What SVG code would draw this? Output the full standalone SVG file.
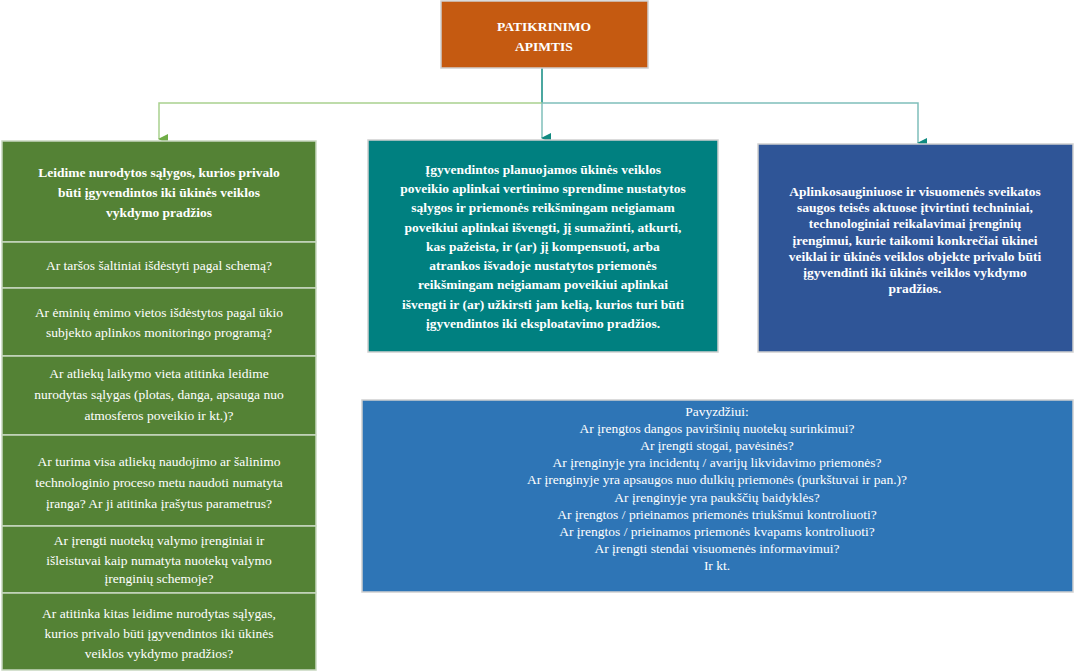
<svg xmlns="http://www.w3.org/2000/svg" width="1078" height="672" viewBox="0 0 1078 672">
<style>
text{font-family:"Liberation Serif","Times New Roman",serif;fill:#fff;text-anchor:middle;font-size:13.5px}
.b{font-weight:bold}
.box{stroke:#d0d0d0;stroke-width:1.5}
.cell{fill:#548235;stroke:#c8d8c0;stroke-width:1.5}
</style>
<defs>
<marker id="ag" markerWidth="10" markerHeight="10" refX="5" refY="9" orient="auto" markerUnits="userSpaceOnUse" viewBox="0 0 10 10"><path d="M0,0L10,0L5,10z" fill="#70AD47"/></marker>
<marker id="at" markerWidth="10" markerHeight="10" refX="5" refY="9" orient="auto" markerUnits="userSpaceOnUse" viewBox="0 0 10 10"><path d="M0,0L10,0L5,10z" fill="#0F8A80"/></marker>
</defs>
<g id="connectors" fill="none" stroke-width="1.5">
<line x1="542" y1="68" x2="542" y2="103" stroke="#0F8A80"/>
<polyline points="542,103 159,103 159,139" stroke="#A9D18E" marker-end="url(#ag)" transform="translate(0,0)"/>
<polyline points="542,103 918,103 918,143" stroke="#7FBFBA" marker-end="url(#at)"/>
<line x1="542" y1="103" x2="542" y2="138" stroke="#7FBFBA" marker-end="url(#at)"/>
</g>
<g id="root">
<rect class="box" x="441" y="1" width="207" height="67" fill="#C55A11"/>
<text class="b" x="544" y="31">PATIKRINIMO</text>
<text class="b" x="544" y="51">APIMTIS</text>
</g>
<g id="left">
<rect class="cell" x="2" y="141" width="314" height="101"/>
<text class="b" x="159" y="177">Leidime nurodytos sąlygos, kurios privalo</text>
<text class="b" x="159" y="197">būti įgyvendintos iki ūkinės veiklos</text>
<text class="b" x="159" y="217">vykdymo pradžios</text>
</g>
<g id="q1"><rect class="cell" x="2" y="242" width="314" height="46"/>
<text x="159" y="270">Ar taršos šaltiniai išdėstyti pagal schemą?</text></g>
<g id="q2"><rect class="cell" x="2" y="288" width="314" height="68"/>
<text x="159" y="317">Ar  ėminių ėmimo vietos išdėstytos pagal ūkio</text>
<text x="159" y="337">subjekto aplinkos monitoringo programą?</text></g>
<g id="q3"><rect class="cell" x="2" y="356" width="314" height="79"/>
<text x="159" y="378">Ar atliekų laikymo vieta atitinka leidime</text>
<text x="159" y="399">nurodytas sąlygas (plotas, danga, apsauga nuo</text>
<text x="159" y="420">atmosferos poveikio ir kt.)?</text></g>
<g id="q4"><rect class="cell" x="2" y="435" width="314" height="91"/>
<text x="159" y="466">Ar turima visa atliekų naudojimo ar šalinimo</text>
<text x="159" y="487">technologinio proceso metu naudoti numatyta</text>
<text x="159" y="508">įranga? Ar ji atitinka įrašytus parametrus?</text></g>
<g id="q5"><rect class="cell" x="2" y="526" width="314" height="67"/>
<text x="159" y="545">Ar įrengti nuotekų valymo įrenginiai ir</text>
<text x="159" y="565">išleistuvai kaip  numatyta nuotekų valymo</text>
<text x="159" y="583">įrenginių schemoje?</text></g>
<g id="q6"><rect class="cell" x="2" y="593" width="314" height="77"/>
<text x="159" y="618">Ar atitinka kitas leidime nurodytas sąlygas,</text>
<text x="159" y="638">kurios privalo būti įgyvendintos iki ūkinės</text>
<text x="159" y="658">veiklos vykdymo pradžios?</text></g>
<g id="middle">
<rect class="box" x="368" y="140" width="350" height="212" fill="#008080"/>
<g class="b">
<text class="b" x="543" y="174">Įgyvendintos planuojamos ūkinės veiklos</text>
<text class="b" x="543" y="193">poveikio aplinkai vertinimo sprendime nustatytos</text>
<text class="b" x="543" y="212">sąlygos ir priemonės reikšmingam neigiamam</text>
<text class="b" x="543" y="232">poveikiui aplinkai išvengti, jį sumažinti, atkurti,</text>
<text class="b" x="543" y="251">kas pažeista, ir (ar) jį kompensuoti, arba</text>
<text class="b" x="543" y="270">atrankos išvadoje nustatytos priemonės</text>
<text class="b" x="543" y="289">reikšmingam neigiamam poveikiui aplinkai</text>
<text class="b" x="543" y="309">išvengti ir (ar) užkirsti jam kelią, kurios turi būti</text>
<text class="b" x="543" y="328">įgyvendintos iki eksploatavimo pradžios.</text>
</g>
</g>
<g id="right">
<rect class="box" x="758" y="144" width="315" height="208" fill="#2F5597"/>
<text class="b" x="915" y="196">Aplinkosauginiuose ir visuomenės sveikatos</text>
<text class="b" x="915" y="212">saugos teisės aktuose įtvirtinti techniniai,</text>
<text class="b" x="915" y="228">technologiniai reikalavimai įrenginių</text>
<text class="b" x="915" y="245">įrengimui, kurie taikomi konkrečiai ūkinei</text>
<text class="b" x="915" y="261">veiklai ir ūkinės veiklos objekte privalo būti</text>
<text class="b" x="915" y="277">įgyvendinti iki ūkinės veiklos vykdymo</text>
<text class="b" x="915" y="293">pradžios.</text>
<text class="b" x="915" y="309"></text>
</g>
<g id="examples">
<rect class="box" x="362" y="400" width="711" height="192" fill="#2E75B6"/>
<text x="717" y="416">Pavyzdžiui:</text>
<text x="717" y="433">Ar įrengtos dangos paviršinių nuotekų surinkimui?</text>
<text x="717" y="450">Ar įrengti stogai, pavėsinės?</text>
<text x="717" y="467">Ar įrenginyje yra incidentų / avarijų likvidavimo priemonės?</text>
<text x="717" y="484">Ar įrenginyje yra apsaugos nuo dulkių priemonės (purkštuvai ir pan.)?</text>
<text x="717" y="502">Ar įrenginyje yra paukščių baidyklės?</text>
<text x="717" y="519">Ar įrengtos / prieinamos priemonės triukšmui kontroliuoti?</text>
<text x="717" y="536">Ar įrengtos / prieinamos priemonės kvapams kontroliuoti?</text>
<text x="717" y="553">Ar įrengti stendai visuomenės informavimui?</text>
<text x="717" y="570">Ir kt.</text>
<text x="717" y="587"></text>
</g>
</svg>
